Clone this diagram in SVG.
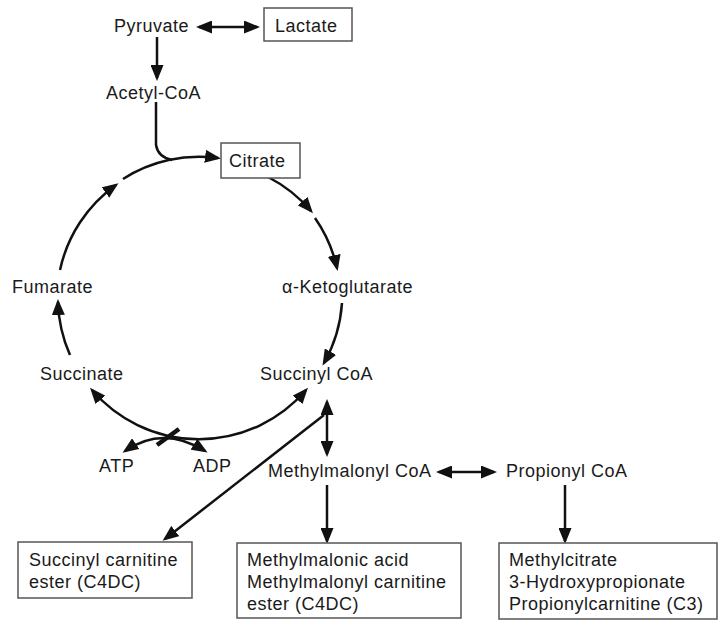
<svg xmlns="http://www.w3.org/2000/svg" width="727" height="631" viewBox="0 0 727 631">
<style>
text{font-family:"Liberation Sans",Arial,sans-serif;font-size:18px;letter-spacing:0.5px;fill:#1a1a1a}
.box{fill:#fff;stroke:#555;stroke-width:1.5}
.c{fill:none;stroke:#111;stroke-width:2.5}
</style>
<defs>
<marker id="ah" markerUnits="userSpaceOnUse" markerWidth="16" markerHeight="13" viewBox="0 0 16 13" refX="13" refY="6.5" orient="auto-start-reverse">
<path d="M0,0 L16,6.5 L0,13 z" fill="#111"/>
</marker>
</defs>
<rect width="727" height="631" fill="#fff"/>
<g id="connectors">
<path class="c" d="M199,27 L257,27" marker-start="url(#ah)" marker-end="url(#ah)"/>
<path class="c" d="M157,37 L157,78" marker-end="url(#ah)"/>
<path class="c" d="M156,102 L156,145 Q158,157 172,160"/>
<path class="c" d="M123,179 A141,141 0 0 1 218,158" marker-end="url(#ah)"/>
<path class="c" d="M268,177 A141,141 0 0 1 311,211" marker-end="url(#ah)"/>
<path class="c" d="M315,218 A141,141 0 0 1 337,268" marker-end="url(#ah)"/>
<path class="c" d="M342,303 A141,141 0 0 1 324,363" marker-end="url(#ah)"/>
<path class="c" d="M306,390 A141,141 0 0 1 92,390" marker-start="url(#ah)" marker-end="url(#ah)"/>
<path class="c" d="M70,355 A141,141 0 0 1 58,302" marker-end="url(#ah)"/>
<path class="c" d="M60,270 A141,141 0 0 1 116,185" marker-end="url(#ah)"/>
<path class="c" d="M125,451 Q163,425 205,451" marker-start="url(#ah)" marker-end="url(#ah)"/>
<path d="M157,445 L179,429" stroke="#111" stroke-width="4.5" fill="none"/>
<path class="c" d="M327,402 L327,454" marker-start="url(#ah)" marker-end="url(#ah)"/>
<path class="c" d="M324,415 L165,539" marker-end="url(#ah)"/>
<path class="c" d="M439,472 L494,472" marker-start="url(#ah)" marker-end="url(#ah)"/>
<path class="c" d="M327,485 L327,541" marker-end="url(#ah)"/>
<path class="c" d="M565,485 L565,541" marker-end="url(#ah)"/>
</g>
<g id="pyruvate"><text x="114" y="32">Pyruvate</text></g>
<g id="lactate"><rect class="box" x="264" y="8" width="88" height="33"/><text x="275" y="32">Lactate</text></g>
<g id="acetylcoa"><text x="106" y="99">Acetyl-CoA</text></g>
<g id="citrate"><rect class="box" x="221" y="143" width="79" height="35"/><text x="229" y="167">Citrate</text></g>
<g id="ketoglutarate"><text x="282" y="293">α-Ketoglutarate</text></g>
<g id="fumarate"><text x="12" y="293">Fumarate</text></g>
<g id="succinate"><text x="40" y="380">Succinate</text></g>
<g id="succinylcoa"><text x="260" y="380">Succinyl CoA</text></g>
<g id="atp"><text x="99" y="472">ATP</text></g>
<g id="adp"><text x="193" y="472">ADP</text></g>
<g id="methylmalonylcoa"><text x="268" y="477">Methylmalonyl CoA</text></g>
<g id="propionylcoa"><text x="506" y="477">Propionyl CoA</text></g>
<g id="succinylcarnitine"><rect class="box" x="18" y="542" width="174" height="56"/><text x="29" y="566">Succinyl carnitine</text><text x="29" y="588">ester (C4DC)</text></g>
<g id="methylmalonic"><rect class="box" x="237" y="543" width="224" height="75"/><text x="247" y="566">Methylmalonic acid</text><text x="247" y="588">Methylmalonyl carnitine</text><text x="247" y="610">ester (C4DC)</text></g>
<g id="methylcitrate"><rect class="box" x="499" y="543" width="218" height="76"/><text x="509" y="566">Methylcitrate</text><text x="509" y="588">3-Hydroxypropionate</text><text x="509" y="610">Propionylcarnitine (C3)</text></g>
</svg>
